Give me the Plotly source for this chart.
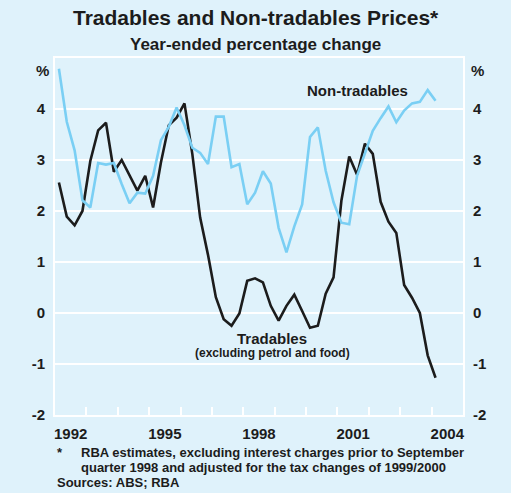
import pandas as pd
import plotly.graph_objects as go

# Quarterly observations, March quarter 1992 to March quarter 2004
start_quarter = "1992Q1"
end_quarter = "2004Q1"

# Year-ended percentage change
tradables = [
    2.56, 1.89, 1.72, 2.00, 2.98, 3.58, 3.73, 2.77, 3.00, 2.69,
    2.40, 2.69, 2.07, 2.95, 3.68, 3.83, 4.11, 3.12, 1.87, 1.14,
    0.31, -0.12, -0.25, -0.01, 0.63, 0.68, 0.60, 0.14, -0.15, 0.14,
    0.36, 0.04, -0.29, -0.25, 0.38, 0.70, 2.20, 3.07, 2.71, 3.32,
    3.12, 2.18, 1.79, 1.57, 0.55, 0.30, 0.00, -0.83, -1.27,
]
non_tradables = [
    4.79, 3.75, 3.19, 2.21, 2.07, 2.94, 2.91, 2.94, 2.53, 2.15,
    2.36, 2.34, 2.69, 3.39, 3.65, 4.03, 3.68, 3.24, 3.14, 2.92,
    3.85, 3.85, 2.86, 2.92, 2.13, 2.36, 2.78, 2.54, 1.67, 1.19,
    1.70, 2.13, 3.45, 3.64, 2.79, 2.17, 1.77, 1.74, 2.69, 3.15,
    3.57, 3.82, 4.05, 3.74, 3.97, 4.11, 4.14, 4.37, 4.16,
]

y_ticks = [-2, -1, 0, 1, 2, 3, 4]
year_labels = [1992, 1995, 1998, 2001, 2004]
year_start, year_end = 1992, 2005

# Place each quarter at its midpoint on a decimal-year scale
quarters = pd.period_range(start_quarter, end_quarter, freq="Q")
x = [q.year + (q.quarter - 0.5) / 4 for q in quarters]

BG = "#dff2fb"
BLUE = "#7acff4"
INK = "#1c1c1c"
FONT = "Liberation Sans, Arial, sans-serif"

W, H = 511, 493
L, R, T, B = 55, 48, 58, 78
pw, ph = W - L - R, H - T - B

fig = go.Figure()
fig.add_trace(go.Scatter(
    x=x, y=non_tradables, mode="lines", yaxis="y2",
    line=dict(color=BLUE, width=2.6), hoverinfo="skip",
))
fig.add_trace(go.Scatter(
    x=x, y=tradables, mode="lines",
    line=dict(color=INK, width=2.6), hoverinfo="skip",
))

axis_font = dict(family=FONT, size=15, color=INK)
yax = dict(
    range=[-2, 5], tickvals=y_ticks,
    ticktext=[f"<b>{v}</b>" for v in y_ticks],
    showgrid=True, gridcolor="white", gridwidth=2,
    zeroline=False, showline=True, linecolor="white", linewidth=2,
    ticks="", tickfont=axis_font, ticklabelstandoff=5, fixedrange=True,
)

fig.update_layout(
    width=W, height=H,
    margin=dict(l=L, r=R, t=T, b=B),
    paper_bgcolor=BG, plot_bgcolor=BG,
    showlegend=False,
    font=dict(family=FONT, color=INK),
    xaxis=dict(
        range=[year_start, year_end],
        tickvals=[y + 0.5 for y in year_labels],
        ticktext=[f"<b>{y}</b>" for y in year_labels],
        ticks="", showgrid=False, zeroline=False,
        showline=True, mirror=True, linecolor="white", linewidth=2,
        tickfont=axis_font, ticklabelstandoff=4, fixedrange=True,
        minor=dict(
            tickvals=list(range(year_start + 1, year_end)),
            ticks="inside", ticklen=8, tickwidth=1.5, tickcolor="white",
            showgrid=False,
        ),
    ),
    yaxis=dict(side="left", **yax),
    yaxis2=dict(side="right", overlaying="y", **yax),
)

# Text placed by page pixel position: (text, x, y, size, anchor)
labels = [
    ("<b>Tradables and Non-tradables Prices*</b>", W / 2, 18, 21, "center"),
    ("<b>Year-ended percentage change</b>", W / 2, 45, 17, "center"),
    ("<b>%</b>", 42, 70, 15, "center"),
    ("<b>%</b>", 477, 70, 15, "center"),
    ("<b>Non-tradables</b>", 357, 90, 15, "center"),
    ("<b>Tradables</b>", 272, 338, 15, "center"),
    ("<b>(excluding petrol and food)</b>", 272, 353, 12, "center"),
    ("<b>*</b>", 55, 452, 13, "left"),
    ("<b>RBA estimates, excluding interest charges prior to September</b>", 79, 452, 13, "left"),
    ("<b>quarter 1998 and adjusted for the tax changes of 1999/2000</b>", 79, 467, 13, "left"),
    ("<b>Sources: ABS; RBA</b>", 55, 482, 13, "left"),
]
for text, px, py, size, anchor in labels:
    fig.add_annotation(
        text=text, showarrow=False, xref="paper", yref="paper",
        x=(px - L) / pw, y=(H - B - py) / ph,
        xanchor=anchor, yanchor="middle",
        font=dict(family=FONT, size=size, color=INK),
    )

fig.write_html("out.html")
